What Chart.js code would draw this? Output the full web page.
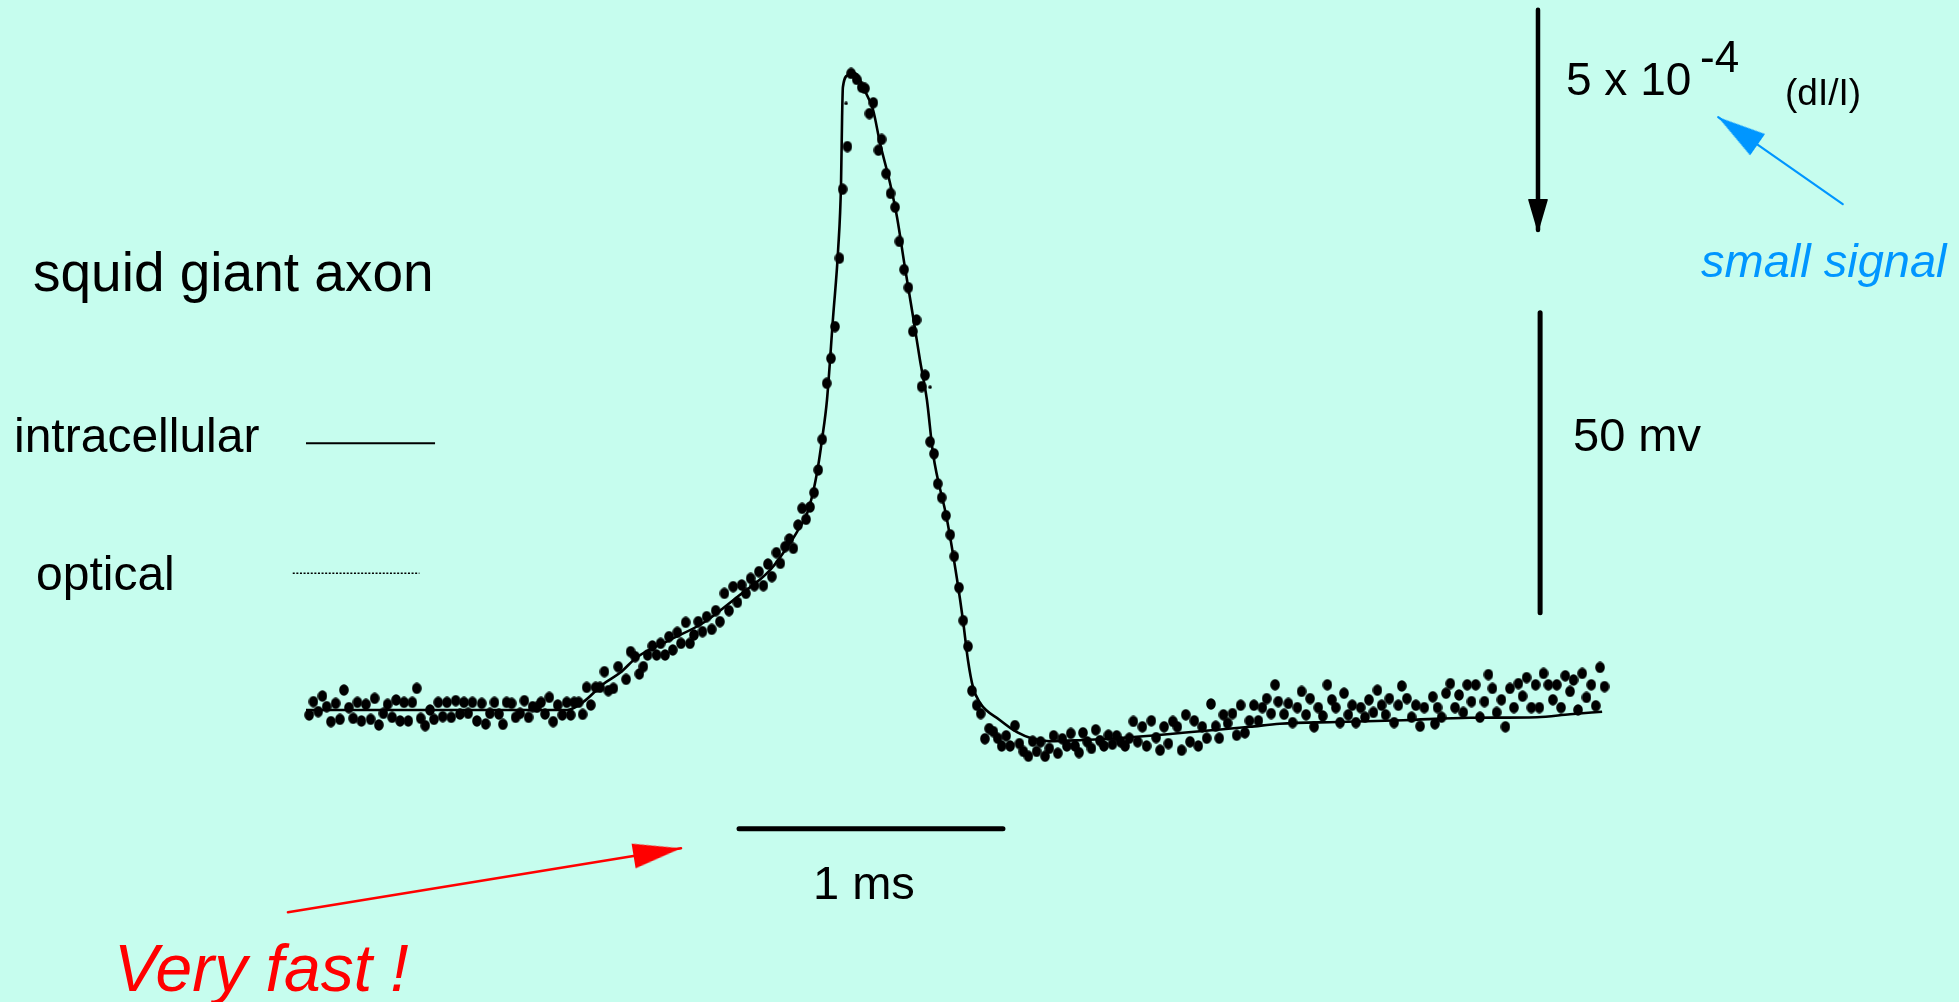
<!DOCTYPE html>
<html>
<head>
<meta charset="utf-8">
<script src="https://cdn.jsdelivr.net/npm/chart.js@4.4.1/dist/chart.umd.min.js"></script>
<style>
html,body{margin:0;padding:0;background:#c6fdee;overflow:hidden;}
#wrap{position:relative;width:1959px;height:1002px;background:#c6fdee;}
#c{position:absolute;left:0;top:0;}
.t{position:absolute;white-space:nowrap;line-height:1;font-family:"Liberation Sans",Arial,Helvetica,sans-serif;color:#000;}
</style>
</head>
<body>
<div id="wrap"><canvas id="c" width="1959" height="1002"></canvas></div>
<script>
// ---------------- DATA (time in ms, potential in mV relative to rest) ----------------
// Intracellular recording (solid trace)
const intraTime = [0, 0.543, 0.985, 1.045, 1.121, 1.185, 1.249, 1.374, 1.498, 1.626, 1.751, 1.826, 1.853, 1.891, 1.913, 1.932, 1.947, 1.966, 1.989, 2.008, 2.019, 2.023, 2.026, 2.045, 2.060, 2.083, 2.102, 2.140, 2.166, 2.204, 2.230, 2.260, 2.291, 2.317, 2.343, 2.366, 2.419, 2.457, 2.479, 2.498, 2.517, 2.543, 2.619, 2.683, 2.743, 2.808, 2.932, 3.060, 3.185, 3.309, 3.438, 3.562, 3.675, 3.891, 4.140, 4.392, 4.645, 4.770, 4.891];
const intraVolt = [0, 0, 0, 1.3, 4.3, 6.2, 8.8, 11.7, 14.5, 18.8, 23.3, 27.8, 29.7, 32.8, 36.2, 40.5, 45, 51.7, 65.5, 76.7, 87.8, 98.8, 103.8, 105.8, 106.3, 105.7, 103.8, 100, 94.5, 87.8, 82.2, 73.8, 65.5, 58.3, 51.7, 42.8, 31.7, 21.7, 15, 8.3, 3.8, 1.2, -1.7, -3.7, -4.8, -5.2, -5, -4.7, -4.3, -3.8, -3.3, -2.8, -2.3, -2, -1.7, -1.3, -1.2, -0.7, -0.3];

// Optical recording (dots), [time, value] pairs, by section
const opticalBaseline = [[0.012,-0.83],[0.028,1.39],[0.046,-0.28],[0.062,2.33],[0.078,0.56],[0.094,-1.94],[0.112,1.11],[0.128,-1.56],[0.143,3.33],[0.162,0.39],[0.178,-1.39],[0.194,1.28],[0.209,-1.83],[0.226,0.94],[0.244,-1.56],[0.259,1.94],[0.275,-2.5],[0.292,-0.56],[0.308,0.94],[0.325,-1.22],[0.340,1.67],[0.355,-1.83],[0.370,1.28],[0.386,-1.83],[0.401,1.28],[0.418,3.61],[0.433,-1.39],[0.450,-2.61],[0.468,0],[0.483,-1.56],[0.499,1.28],[0.516,-1.11],[0.532,1.28],[0.548,-1.22],[0.565,1.56],[0.581,-0.67],[0.596,1.28],[0.612,-0.56],[0.628,1.28],[0.645,-1.83],[0.663,1.11],[0.678,-2.33],[0.694,-0.56],[0.711,1.28],[0.728,-0.67],[0.743,-2.39],[0.757,1.28],[0.776,1.11],[0.791,-1.22],[0.808,-0.56],[0.824,1.56],[0.840,-1.22],[0.855,0.56],[0.871,0.44],[0.887,1.28],[0.902,-0.67],[0.918,2.11],[0.933,-1.94],[0.950,0.83],[0.967,-0.83],[0.984,1.28],[0.999,-0.83],[1.012,1.28],[1.029,1.28],[1.044,-0.72],[1.059,3.78],[1.075,0.83],[1.093,3.78],[1.109,3.78],[1.126,6.39],[1.141,3.22],[1.160,3.61],[1.178,7.22]];
const opticalRise = [[1.208,5.11],[1.225,9.72],[1.242,8.89],[1.258,6.0],[1.273,7.22],[1.289,9.17],[1.307,10.67],[1.323,9.17],[1.338,11.11],[1.355,9.17],[1.370,12.22],[1.384,10.0],[1.401,12.94],[1.415,11.11],[1.433,14.61],[1.449,11.11],[1.464,12.5],[1.480,14.72],[1.496,13.06],[1.512,15.56],[1.531,13.44],[1.546,16.56],[1.562,14.72],[1.579,19.44],[1.596,16.56],[1.612,20.56],[1.628,17.94],[1.644,20.83],[1.660,19.44],[1.678,21.94],[1.692,20.72],[1.709,23.06],[1.726,20.72],[1.743,24.33],[1.758,22.22],[1.775,26.22],[1.790,24.44],[1.808,27.22],[1.824,28.5],[1.839,26.94],[1.857,30.83],[1.872,33.61],[1.887,31.78],[1.902,33.83],[1.917,36.22],[1.933,40]];
const opticalPeak = [[1.948,45.1],[1.965,54.45],[1.981,58.6],[1.996,63.9],[2.013,75.3],[2.025,86.8],[2.043,93.9],[2.057,106.1],[2.078,105.1],[2.097,103.8],[2.109,103.6],[2.126,99.4],[2.141,101.2],[2.160,93.3],[2.172,95.1],[2.189,89.4],[2.206,86.1],[2.223,83.8],[2.239,78.1],[2.257,73.4],[2.273,70.4],[2.290,63.1],[2.304,65],[2.323,53.9],[2.336,55.8]];
const opticalFall = [[2.355,44.7],[2.370,42.7],[2.384,37.7],[2.399,35.4],[2.415,32.4],[2.431,29.2],[2.446,25.6],[2.464,20.4],[2.480,14.9],[2.498,10.6],[2.513,3.2],[2.531,0.8],[2.546,-0.6]];
const opticalUndershoot = [[2.562,-4.8],[2.578,-3.1],[2.594,-3.6],[2.610,-4.7],[2.625,-6.0],[2.642,-4.3],[2.657,-6.0],[2.675,-2.6],[2.692,-5.6],[2.707,-6.9],[2.726,-7.7],[2.742,-5.2],[2.757,-6.9],[2.772,-5.3],[2.789,-7.7],[2.805,-6.4],[2.821,-4.3],[2.837,-7.2],[2.854,-4.8],[2.871,-6.0],[2.886,-3.9],[2.902,-6.0],[2.917,-7.1],[2.932,-3.8],[2.948,-5.3],[2.964,-6.4],[2.980,-3.3],[2.996,-5.1],[3.011,-6.0],[3.028,-4.2],[3.043,-5.7],[3.059,-4.3],[3.074,-5.3],[3.091,-6.0],[3.107,-4.7],[3.122,-1.9],[3.138,-5.3],[3.156,-2.8],[3.172,-6.0],[3.190,-1.8],[3.208,-4.6],[3.223,-6.7],[3.238,-2.8],[3.254,-5.6],[3.271,-1.9],[3.288,-2.8],[3.304,-6.7],[3.320,-0.8],[3.336,-5.3],[3.352,-1.8],[3.367,-6.0],[3.382,-2.8],[3.399,-4.7],[3.415,1.0],[3.433,-2.7],[3.446,-4.7],[3.462,-0.8],[3.478,-2.2],[3.496,-0.6],[3.512,-4.2],[3.527,0.8],[3.543,-3.8],[3.560,-1.8],[3.577,0.8],[3.594,-1.8],[3.609,0.4],[3.625,1.9],[3.642,-0.6],[3.657,4.2],[3.669,1.4]];
const opticalTail = [[3.691,-0.7],[3.707,1.1],[3.723,-2.1],[3.741,0.4],[3.757,3.1],[3.774,-0.8],[3.789,1.9],[3.804,-2.8],[3.820,0.4],[3.837,-1.0],[3.854,4.2],[3.871,1.7],[3.886,0.4],[3.902,-2.1],[3.917,2.8],[3.933,-0.8],[3.948,0.8],[3.962,-2.1],[3.980,0.4],[3.996,-1.2],[4.011,1.7],[4.028,-0.4],[4.043,3.3],[4.059,0.8],[4.074,-0.8],[4.088,1.9],[4.106,-2.1],[4.122,0.8],[4.135,4.0],[4.154,1.9],[4.172,-1.2],[4.188,0.8],[4.204,-2.7],[4.220,0.4],[4.252,2.2],[4.260,-2.3],[4.270,0.4],[4.285,-1.2],[4.302,2.8],[4.318,4.4],[4.336,0.4],[4.351,2.5],[4.367,-0.4],[4.382,4.2],[4.398,1.4],[4.414,4.2],[4.430,-1.2],[4.447,1.4],[4.462,5.9],[4.477,3.6],[4.493,-0.4],[4.511,1.7],[4.526,-2.8],[4.543,3.6],[4.558,0.4],[4.575,4.4],[4.591,2.3],[4.606,5.4],[4.624,0.4],[4.640,4.2],[4.654,0.4],[4.670,6.1],[4.688,4.2],[4.705,1.7],[4.720,4.2],[4.736,0.4],[4.752,5.7],[4.770,3.1],[4.783,5.0],[4.800,0.0],[4.816,6.1],[4.832,2.1],[4.850,4.2],[4.867,0.7],[4.883,7.1],[4.900,3.9]];
const opticalSmall = [[2.038,101.1],[2.355,53.8]];

// Scale bars and annotation marks, in the same units
const timeBar = [[1.634,-19.8],[2.630,-19.8]];          // 1 ms
const voltBar = [[4.657,66.2],[4.657,16.2]];            // 50 mV
const opticalScaleArrow = [[4.649,116.7],[4.649,80.0]]; // 5 x 10^-4 dI/I
const legendIntra = [[0,44.45],[0.487,44.45]];
const legendOptical = [[-0.050,22.8],[0.428,22.8]];
const redArrow = [[-0.068,-33.7],[1.415,-23.05]];
const blueArrow = [[5.799,84.3],[5.329,98.8]];

// ---------------- LAYOUT ----------------
const W = 1959, H = 1002;
const X_MIN = -1.1547, X_MAX = 6.2377, Y_MIN = -48.667, Y_MAX = 118.333;
const pxPerMs = W / (X_MAX - X_MIN), pxPerMv = H / (Y_MAX - Y_MIN);

const xy = arr => arr.map(p => ({x: p[0], y: p[1]}));
const angleOf = (a, b) => Math.atan2(-(b[1] - a[1]) * pxPerMv, (b[0] - a[0]) * pxPerMs) * 180 / Math.PI;

function makeDot(w, h) {
  const c = document.createElement('canvas'); c.width = w; c.height = h;
  const g = c.getContext('2d'); g.fillStyle = '#000';
  g.beginPath(); g.ellipse(w / 2, h / 2, w / 2 - 0.2, h / 2 - 0.2, 0, 0, Math.PI * 2); g.fill();
  return c;
}
function makeHead(len, width, color, round) {
  const s = Math.ceil(Math.max(2 * len, width)) + 4;
  const c = document.createElement('canvas'); c.width = s; c.height = s;
  const g = c.getContext('2d'); const cx = s / 2, cy = s / 2;
  g.fillStyle = color; g.strokeStyle = color;
  g.beginPath();
  const tip = round ? cx - 1.2 : cx;
  g.moveTo(tip, cy); g.lineTo(tip - len, cy - width / 2); g.lineTo(tip - len, cy + width / 2); g.closePath();
  g.fill();
  if (round) { g.lineJoin = 'round'; g.lineWidth = 2.4; g.stroke(); }
  return c;
}

const dot = makeDot(10, 12);
const dotSmall = makeDot(4, 4);
const headBlack = makeHead(29, 17, '#000', true);
const headRed = makeHead(48, 25, '#ff0000', false);
const headBlue = makeHead(48, 26, '#0096ff', false);

const lineDs = (data, color, width, extra) => Object.assign({
  data: xy(data), showLine: true, borderColor: color, backgroundColor: color,
  borderWidth: width, pointRadius: 0, fill: false, borderCapStyle: 'butt'
}, extra || {});
const headDs = (pt, img, rot) => ({
  data: xy([pt]), showLine: false, pointStyle: img, pointRadius: 6, pointRotation: rot,
  borderWidth: 0, backgroundColor: '#000'
});

const intraData = intraTime.map((t, i) => [t, intraVolt[i]]);
const opticalAll = [].concat(opticalBaseline, opticalRise, opticalPeak, opticalFall, opticalUndershoot, opticalTail);

new Chart(document.getElementById('c'), {
  type: 'scatter',
  data: {
    datasets: [
      { label: 'optical', data: xy(opticalAll), pointStyle: dot, pointRadius: 5, showLine: false, backgroundColor: '#000', borderWidth: 0, order: 1 },
      { label: 'optical (small)', data: xy(opticalSmall), pointStyle: dotSmall, pointRadius: 2, showLine: false, backgroundColor: '#000', borderWidth: 0, order: 1 },
      lineDs(intraData, '#000', 2.6, { label: 'intracellular', cubicInterpolationMode: 'monotone', borderJoinStyle: 'round', order: 2 }),
      lineDs(timeBar, '#000', 5, { label: '1 ms', borderCapStyle: 'round' }),
      lineDs(voltBar, '#000', 5, { label: '50 mv', borderCapStyle: 'round' }),
      lineDs(opticalScaleArrow, '#000', 4.5, { label: 'dI/I scale', borderCapStyle: 'round' }),
      headDs(opticalScaleArrow[1], headBlack, angleOf(opticalScaleArrow[0], opticalScaleArrow[1])),
      lineDs(legendIntra, '#000', 2, { label: 'legend intracellular' }),
      lineDs(legendOptical, '#000', 1.4, { label: 'legend optical', borderDash: [2, 1.6] }),
      lineDs(redArrow, '#ff0000', 2.6, { label: 'very fast arrow', borderCapStyle: 'round' }),
      headDs(redArrow[1], headRed, angleOf(redArrow[0], redArrow[1])),
      lineDs(blueArrow, '#0096ff', 2.2, { label: 'small signal arrow', borderCapStyle: 'round' }),
      headDs(blueArrow[1], headBlue, angleOf(blueArrow[0], blueArrow[1]))
    ]
  },
  options: {
    responsive: false, animation: false, events: [],
    layout: { padding: 0, autoPadding: false },
    plugins: { legend: { display: false }, tooltip: { enabled: false }, title: { display: false } },
    scales: {
      x: { type: 'linear', min: X_MIN, max: X_MAX, display: false },
      y: { type: 'linear', min: Y_MIN, max: Y_MAX, display: false }
    }
  }
});

// ---------------- TEXT (real HTML text) ----------------
const labels = [
  { text: 'squid giant axon', x: 33, base: 292, size: 55 },
  { text: 'intracellular', x: 14, base: 453, size: 48 },
  { text: 'optical', x: 36, base: 591, size: 48 },
  { text: '5 x 10', x: 1566, base: 95, size: 46 },
  { text: '-4', x: 1700, base: 72, size: 44 },
  { text: '(dI/I)', x: 1785, base: 105, size: 37 },
  { text: 'small signal', x: 1701, base: 277, size: 47, italic: true, color: '#0096ff' },
  { text: '50 mv', x: 1573, base: 451, size: 47 },
  { text: '1 ms', x: 813, base: 899, size: 47 },
  { text: 'Very fast !', x: 114, base: 991, size: 66, italic: true, color: '#ff0000' }
];
const wrap = document.getElementById('wrap');
labels.forEach(l => {
  const d = document.createElement('div');
  d.className = 't';
  d.textContent = l.text;
  d.style.fontSize = l.size + 'px';
  d.style.left = l.x + 'px';
  d.style.top = (l.base - 0.8465 * l.size) + 'px';
  if (l.italic) d.style.fontStyle = 'italic';
  if (l.color) d.style.color = l.color;
  wrap.appendChild(d);
});
</script>
</body>
</html>
